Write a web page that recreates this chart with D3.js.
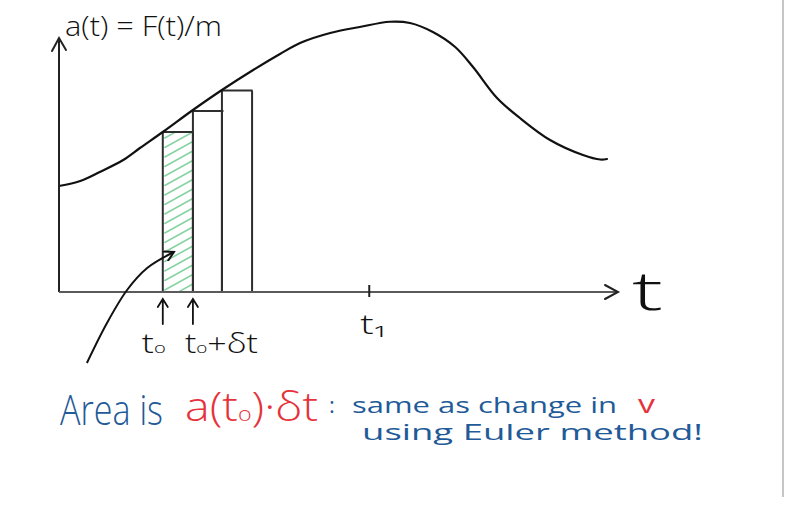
<!DOCTYPE html>
<html>
<head>
<meta charset="utf-8">
<script src="https://cdn.jsdelivr.net/npm/d3@7"></script>
<style>
  html, body { margin: 0; padding: 0; background: #fff; }
  svg { display: block; }
  text { font-family: "Open Sans", "Noto Sans", sans-serif; }
</style>
</head>
<body>
<svg id="chart" width="785" height="505"></svg>
<script>
// ---- data (t, a(t) units) ----
const curveT = [0, 3.8, 7.3, 11.5, 14.5, 18.6, 24.0, 29.2, 34.8, 39.6, 43.2, 48.6, 53.9, 59.3, 62.9, 67.0, 71.0, 74.2, 78.5, 82.6, 88.0, 93.9, 97.0, 98.2];
const curveA = [42.4, 44.4, 48.0, 52.8, 57.6, 64.0, 72.8, 80.8, 88.8, 95.2, 99.6, 103.6, 106.0, 108.1, 107.6, 104.0, 98.0, 90.0, 77.6, 69.6, 60.8, 54.8, 53.0, 53.2];
const barStart = [18.6, 24.0, 29.2];
const barEnd = [24.0, 29.2, 34.6];
const barA = [64.0, 72.4, 80.6];
const tickT = [55.6];
const tickLabels = ["t₁"];
const pointerT = [5.0, 8.6, 12.2, 15.8, 20.6];
const pointerA = [-28.4, -12.4, 0.8, 9.6, 16.0];

const svg = d3.select("#chart");
const x = d3.scaleLinear().domain([0, 100]).range([59, 617]);
const y = d3.scaleLinear().domain([0, 110]).range([292, 17]);

// right border line of the page
svg.append("line").attr("x1", 783).attr("x2", 783).attr("y1", 0).attr("y2", 497)
  .attr("stroke", "#c6c6c6").attr("stroke-width", 2);

const defs = svg.append("defs");
defs.append("clipPath").attr("id", "bar0clip").append("rect")
  .attr("x", x(barStart[0])).attr("y", y(barA[0]))
  .attr("width", x(barEnd[0]) - x(barStart[0])).attr("height", y(0) - y(barA[0]));
defs.append("marker").attr("id", "ah").attr("viewBox", "0 0 12 12")
  .attr("refX", 10).attr("refY", 6).attr("markerWidth", 12).attr("markerHeight", 12)
  .attr("markerUnits", "userSpaceOnUse").attr("orient", "auto")
  .append("path").attr("d", "M1,1 L10,6 L1,11").attr("fill", "none")
  .attr("stroke", "#111").attr("stroke-width", 2).attr("stroke-linecap", "round");

// hatching in the first bar
const hatch = svg.append("g").attr("clip-path", "url(#bar0clip)");
const hx0 = x(barStart[0]), hx1 = x(barEnd[0]);
const hy = d3.range(y(barA[0]) + 6, y(0) + 20, 9.5);
hatch.selectAll("line").data(hy).join("line")
  .attr("x1", hx0 + 2).attr("y1", d => d)
  .attr("x2", hx1 - 1).attr("y2", d => d - 15)
  .attr("stroke", "#86d3a2").attr("stroke-width", 1.5).attr("stroke-linecap", "round");

// bars
svg.append("g").selectAll("path").data(barStart).join("path")
  .attr("d", (d, i) => `M${x(d)},${y(0)} V${y(barA[i])} H${x(barEnd[i]) + (i === 1 ? 1.5 : 0.5)} M${x(barEnd[i])},${y(barA[i])} V${y(0)}`)
  .attr("fill", "none").attr("stroke", "#2e2e2e").attr("stroke-width", 2);

// curve
const pts = curveT.map((t, i) => [t, curveA[i]]);
svg.append("path").datum(pts)
  .attr("d", d3.line().x(d => x(d[0])).y(d => y(d[1])).curve(d3.curveCatmullRom.alpha(0.5)))
  .attr("fill", "none").attr("stroke", "#111").attr("stroke-width", 2.2).attr("stroke-linecap", "round");

// axes
svg.append("line").attr("x1", x(0)).attr("x2", x(0)).attr("y1", y(0)).attr("y2", 38)
  .attr("stroke", "#222").attr("stroke-width", 2);
svg.append("path").attr("d", `M${x(0) - 7},51 L${x(0)},38 L${x(0) + 7},50`)
  .attr("fill", "none").attr("stroke", "#222").attr("stroke-width", 2).attr("stroke-linecap", "round");
svg.append("line").attr("x1", x(0)).attr("x2", x(100) + 1).attr("y1", y(0)).attr("y2", y(0))
  .attr("stroke", "#5a5a5a").attr("stroke-width", 2.2);
svg.append("path").attr("d", `M${x(100) - 12},285 L${x(100) + 1},${y(0)} L${x(100) - 12},299`)
  .attr("fill", "none").attr("stroke", "#222").attr("stroke-width", 2).attr("stroke-linecap", "round");

// t1 tick
svg.append("g").selectAll("line").data(tickT).join("line")
  .attr("x1", d => x(d)).attr("x2", d => x(d)).attr("y1", y(0) - 7).attr("y2", y(0) + 5)
  .attr("stroke", "#222").attr("stroke-width", 2);
svg.append("g").selectAll("text").data(tickT).join("text")
  .attr("x", d => x(d) - 9).attr("y", 334)
  .attr("font-size", 27).attr("font-weight", 300).attr("fill", "#111")
  .attr("textLength", 27).attr("lengthAdjust", "spacingAndGlyphs")
  .text((d, i) => tickLabels[i]);

// small up arrows below t0 and t0+dt
const arrowT = [barStart[0], barEnd[0]];
const ua = svg.append("g").attr("stroke", "#111").attr("stroke-width", 1.8).attr("fill", "none").attr("stroke-linecap", "round");
ua.selectAll("path").data(arrowT).join("path")
  .attr("d", d => `M${x(d)},324 V299 M${x(d) - 5},307 L${x(d)},299 L${x(d) + 5},307`);

// t0 labels
const lab0 = svg.append("text").attr("x", x(barStart[0]) - 21).attr("y", 353).attr("font-size", 27)
  .attr("font-weight", 300).attr("fill", "#111")
  .attr("textLength", 24).attr("lengthAdjust", "spacingAndGlyphs");
lab0.append("tspan").text("t");
lab0.append("tspan").attr("font-size", 15).text("o");
const lab1 = svg.append("text").attr("x", x(barEnd[0]) - 8).attr("y", 353).attr("font-size", 27)
  .attr("font-weight", 300).attr("fill", "#111")
  .attr("textLength", 73).attr("lengthAdjust", "spacingAndGlyphs");
lab1.append("tspan").text("t");
lab1.append("tspan").attr("font-size", 15).text("o");
lab1.append("tspan").text("+δt");

// axis labels
svg.append("text").attr("x", 65).attr("y", 36).attr("font-size", 27).attr("font-weight", 300).attr("fill", "#111")
  .attr("textLength", 157).attr("lengthAdjust", "spacingAndGlyphs").text("a(t) = F(t)/m");
svg.append("text").attr("x", 632).attr("y", 310).attr("font-size", 54).attr("fill", "#111")
  .attr("font-weight", 300).attr("textLength", 31).attr("lengthAdjust", "spacingAndGlyphs").text("t");

// curved pointer arrow
const ppts = pointerT.map((t, i) => [t, pointerA[i]]);
svg.append("path").datum(ppts)
  .attr("d", d3.line().x(d => x(d[0])).y(d => y(d[1])).curve(d3.curveCatmullRom.alpha(0.5)))
  .attr("fill", "none").attr("stroke", "#111").attr("stroke-width", 2).attr("marker-end", "url(#ah)");

// bottom annotation
const blue = "#1f5b98", red = "#e5323b";
svg.append("text").attr("x", 60).attr("y", 425).attr("font-size", 42).attr("fill", blue)
  .attr("font-weight", 300)
  .attr("textLength", 103).attr("lengthAdjust", "spacingAndGlyphs").text("Area is");
const rt = svg.append("text").attr("x", 185).attr("y", 421).attr("font-size", 40).attr("fill", red)
  .attr("font-weight", 300)
  .attr("textLength", 133).attr("lengthAdjust", "spacingAndGlyphs");
rt.append("tspan").text("a(t");
rt.append("tspan").attr("font-size", 20).text("o");
rt.append("tspan").text(")·δt");
svg.append("text").attr("x", 329).attr("y", 413).attr("font-size", 22).attr("fill", blue).text(":");
svg.append("text").attr("x", 352).attr("y", 413).attr("font-size", 22).attr("fill", blue)
  .attr("textLength", 265).attr("lengthAdjust", "spacingAndGlyphs").text("same as change in");
svg.append("text").attr("x", 638).attr("y", 413).attr("font-size", 25).attr("fill", red)
  .attr("textLength", 17).attr("lengthAdjust", "spacingAndGlyphs").text("v");
svg.append("text").attr("x", 362).attr("y", 440).attr("font-size", 21).attr("fill", blue)
  .attr("textLength", 341).attr("lengthAdjust", "spacingAndGlyphs").text("using Euler method!");
</script>
</body>
</html>
